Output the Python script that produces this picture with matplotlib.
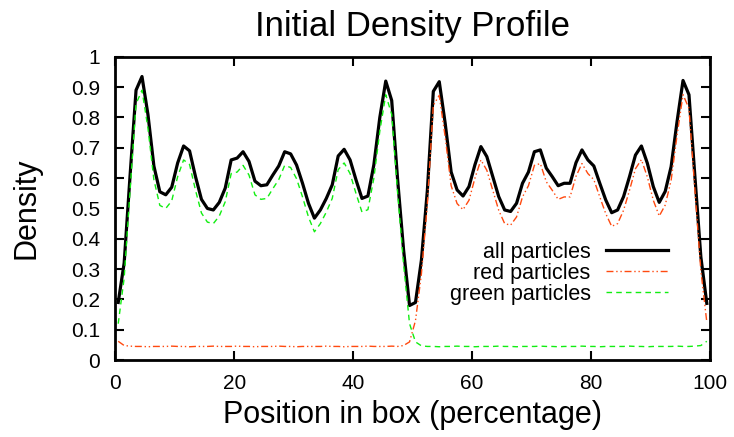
import numpy as np
import matplotlib
matplotlib.use("Agg")
import matplotlib.pyplot as plt

plt.rcParams["font.family"] = ["Liberation Sans", "DejaVu Sans"]

# === Données ===
position = np.arange(100) + 0.5   # centres des tranches (% de la boîte)

all_density = [
    0.19, 0.32, 0.61, 0.89, 0.935, 0.81, 0.64, 0.555, 0.545, 0.57,
    0.65, 0.706, 0.69, 0.605, 0.53, 0.50, 0.495, 0.52, 0.567, 0.66,
    0.666, 0.687, 0.655, 0.59, 0.575, 0.578, 0.61, 0.64, 0.687, 0.68,
    0.643, 0.583, 0.517, 0.468, 0.495, 0.533, 0.578, 0.673, 0.695, 0.66,
    0.594, 0.533, 0.541, 0.644, 0.80, 0.92, 0.856, 0.594, 0.363, 0.18,
    0.19, 0.33, 0.56, 0.886, 0.918, 0.78, 0.62, 0.561, 0.541, 0.572,
    0.644, 0.704, 0.671, 0.605, 0.539, 0.495, 0.49, 0.517, 0.583, 0.62,
    0.687, 0.693, 0.633, 0.605, 0.575, 0.583, 0.583, 0.651, 0.693, 0.66,
    0.64, 0.583, 0.528, 0.486, 0.495, 0.539, 0.605, 0.676, 0.706, 0.649,
    0.572, 0.52, 0.556, 0.638, 0.787, 0.922, 0.875, 0.605, 0.34, 0.187,
]

red_density = [
    0.062, 0.048, 0.046, 0.045, 0.045, 0.044, 0.045, 0.045, 0.045, 0.046,
    0.045, 0.045, 0.044, 0.045, 0.045, 0.045, 0.046, 0.045, 0.045, 0.045,
    0.046, 0.045, 0.045, 0.044, 0.045, 0.045, 0.045, 0.046, 0.045, 0.045,
    0.044, 0.045, 0.045, 0.045, 0.045, 0.046, 0.045, 0.045, 0.044, 0.045,
    0.045, 0.045, 0.046, 0.045, 0.045, 0.045, 0.046, 0.045, 0.048, 0.06,
    0.13, 0.285, 0.515, 0.84, 0.873, 0.735, 0.575, 0.516, 0.496, 0.527,
    0.6, 0.66, 0.626, 0.56, 0.494, 0.45, 0.445, 0.472, 0.538, 0.575,
    0.642, 0.648, 0.588, 0.56, 0.53, 0.538, 0.538, 0.606, 0.648, 0.615,
    0.595, 0.538, 0.483, 0.441, 0.45, 0.494, 0.56, 0.631, 0.661, 0.604,
    0.527, 0.475, 0.511, 0.593, 0.742, 0.875, 0.83, 0.56, 0.295, 0.125,
]

green_density = [
    0.12, 0.27, 0.56, 0.845, 0.89, 0.765, 0.595, 0.51, 0.50, 0.525,
    0.605, 0.66, 0.645, 0.56, 0.485, 0.455, 0.45, 0.475, 0.522, 0.615,
    0.62, 0.642, 0.61, 0.545, 0.53, 0.533, 0.565, 0.595, 0.642, 0.635,
    0.598, 0.538, 0.472, 0.423, 0.45, 0.488, 0.533, 0.628, 0.65, 0.615,
    0.549, 0.488, 0.496, 0.6, 0.755, 0.875, 0.81, 0.55, 0.315, 0.12,
    0.06, 0.047, 0.045, 0.045, 0.044, 0.045, 0.045, 0.046, 0.045, 0.045,
    0.044, 0.045, 0.045, 0.045, 0.046, 0.045, 0.045, 0.044, 0.045, 0.045,
    0.045, 0.046, 0.045, 0.045, 0.044, 0.045, 0.045, 0.045, 0.046, 0.045,
    0.045, 0.044, 0.045, 0.045, 0.045, 0.045, 0.046, 0.045, 0.045, 0.044,
    0.045, 0.045, 0.045, 0.045, 0.046, 0.045, 0.045, 0.046, 0.048, 0.062,
]

x_ticks = [0, 20, 40, 60, 80, 100]
y_ticks = [0, 0.1, 0.2, 0.3, 0.4, 0.5, 0.6, 0.7, 0.8, 0.9, 1]
y_tick_labels = ["0", "0.1", "0.2", "0.3", "0.4", "0.5", "0.6", "0.7", "0.8", "0.9", "1"]

# === Figure ===
fig = plt.figure(figsize=(7.34, 4.37), dpi=100)
ax = fig.add_axes([0.157, 0.176, 0.81, 0.694])

ax.plot(position, all_density, color="black", lw=2.3, label="all particles")
ax.plot(position, red_density, color="#ff4a10", lw=1.0,
        linestyle=(0, (5, 2, 1, 2, 1, 2)), label="red particles")
ax.plot(position, green_density, color="#11ee11", lw=1.0,
        linestyle=(0, (4, 3)), label="green particles")

ax.set_xlim(0, 100)
ax.set_ylim(0, 1)
ax.set_xticks(x_ticks)
ax.set_yticks(y_ticks)
ax.set_yticklabels(y_tick_labels)
ax.tick_params(direction="in", length=6.5, width=1.5, top=True, right=True,
               labelsize=15)
ax.tick_params(axis="x", pad=10)
ax.tick_params(axis="y", pad=11)
for s in ax.spines.values():
    s.set_linewidth(2.0)

ax.set_title("Initial Density Profile", fontsize=25, pad=15)
ax.set_xlabel("Position in box (percentage)", fontsize=22, labelpad=5)
ax.set_ylabel("Density", fontsize=22, labelpad=21)

ax.legend(loc="center right", bbox_to_anchor=(0.930, 0.286), frameon=False,
          markerfirst=False, fontsize=15.5, handlelength=2.9,
          handletextpad=0.7, labelspacing=0.0, borderpad=0, borderaxespad=0)

fig.savefig("out.png", dpi=100)
